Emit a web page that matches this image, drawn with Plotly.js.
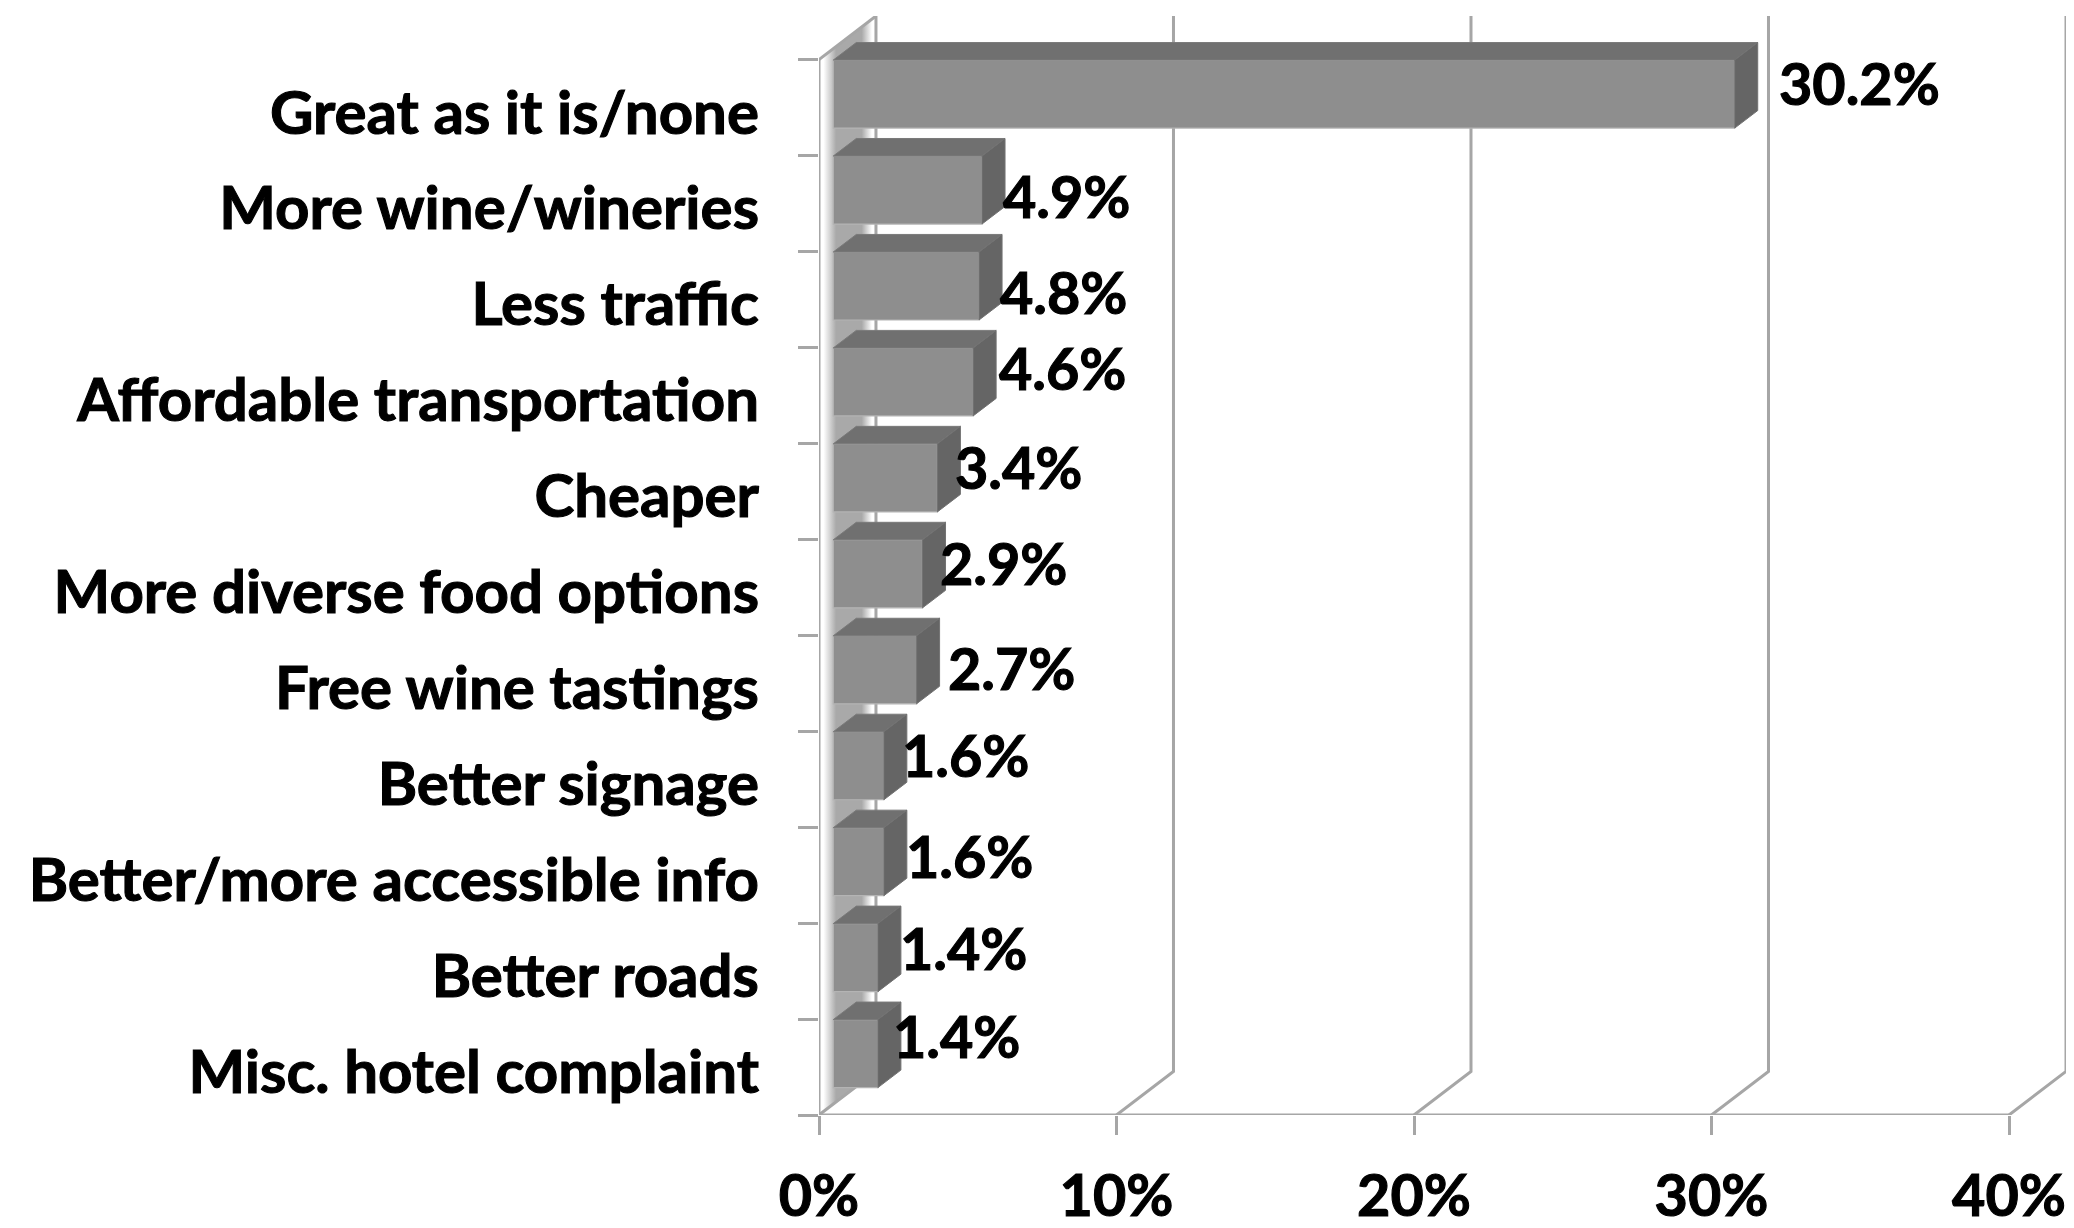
<!DOCTYPE html>
<html><head><meta charset="utf-8">
<script src="https://cdn.plot.ly/plotly-3.0.1.min.js"></script>
<style>html,body{margin:0;padding:0;background:#fff} svg text{stroke:#000;stroke-width:1.1px}</style></head>
<body><div id="chart" style="width:2074px;height:1228px"></div>
<script>
const categories = ["Great as it is/none","More wine/wineries","Less traffic","Affordable transportation","Cheaper","More diverse food options","Free wine tastings","Better signage","Better/more accessible info","Better roads","Misc. hotel complaint"];
const values = [30.2,4.9,4.8,4.6,3.4,2.9,2.7,1.6,1.6,1.4,1.4];
const axisTicks = [0,10,20,30,40];

// 3-D look, expressed in axis units
const wallDX = 1.915, wallDY = 0.4536;
const barDX = 0.773, barDY = 0.1825;
const barBase = 0.48, barEndShift = 0.58, barShiftY = -0.14, barThick = 0.709;
// hand placement of the data labels (px from the bar end)
const nudgeX = [42,19,19,24,16,15,29,16,20,20,13];
const nudgeY = [-25,-8,-8,-28,-25,-25,-16,-25,-20,-24,-32];

const FONT = 'Lato, "Open Sans", sans-serif', GRID = '#a6a6a6', IDX = categories.map((_, i) => i);
const yBottom = categories.length - 0.5, yTop = -0.5;

const wall = {x:[0,wallDX,wallDX,0,0], y:[yTop,yTop-wallDY,yBottom-wallDY,yBottom,yTop], mode:'none', fill:'toself', hoverinfo:'skip',
  fillgradient:{type:'horizontal', colorscale:[[0,'#ffffff'],[0.08,'#ffffff'],[0.3,'#a9a9a9'],[0.75,'#a9a9a9'],[0.93,'#ffffff'],[1,'#ffffff']]}};
const gx = [], gy = [];
axisTicks.forEach(t => { gx.push(t,t+wallDX,t+wallDX,null); gy.push(yBottom,yBottom-wallDY,yTop-wallDY,null); });
const grid = {x:gx, y:gy, mode:'lines', line:{color:GRID,width:3}, hoverinfo:'skip', cliponaxis:false};
const frame = {x:[0,0,axisTicks[axisTicks.length-1],null,0,wallDX], y:[yTop,yBottom,yBottom,null,yTop,yTop-wallDY], mode:'lines', line:{color:GRID,width:3}, hoverinfo:'skip', cliponaxis:false};

const bars = {type:'bar', orientation:'h', xaxis:'x2', yaxis:'y2', y:IDX.map(i=>i+barShiftY), x:values.map(v=>v+barEndShift-barBase), base:barBase, width:barThick,
  marker:{color:'#8e8e8e', line:{color:'#b4b4b4', width:1.2}}, hovertemplate:'%{x}<extra></extra>'};
const tx = [], ty = [], sx = [], sy = [];
values.forEach((v,i) => {
  const r = v+barEndShift, top = i+barShiftY-barThick/2, bot = i+barShiftY+barThick/2;
  tx.push(barBase,barBase+barDX,r+barDX,r,barBase,null); ty.push(top,top-barDY,top-barDY,top,top,null);
  sx.push(r,r+barDX,r+barDX,r,r,null); sy.push(top,top-barDY,bot-barDY,bot,top,null);
});
const topFaces = {x:tx, y:ty, xaxis:'x2', yaxis:'y2', mode:'lines', fill:'toself', fillcolor:'#707070', line:{color:'#7a7a7a',width:1}, hoverinfo:'skip'};
const sideFaces = {x:sx, y:sy, xaxis:'x2', yaxis:'y2', mode:'lines', fill:'toself', fillcolor:'#656565', line:{color:'#727272',width:1}, hoverinfo:'skip'};

const annotations = values.map((v,i) => ({x:v+barEndShift, y:i, xref:'x', yref:'y', text:v.toFixed(1)+'%', showarrow:false, xanchor:'left', yanchor:'middle',
  xshift:nudgeX[i], yshift:-nudgeY[i], font:{family:FONT,size:57.5,color:'#000',weight:700}}));

const xr = [0, axisTicks[axisTicks.length-1]+wallDX], yr = [yBottom, yTop-wallDY];
const layout = {width:2074, height:1228, autosize:false, showlegend:false, paper_bgcolor:'#fff', plot_bgcolor:'#fff',
  margin:{l:818.5, r:8, t:16, b:113, pad:0}, barmode:'overlay', annotations,
  xaxis:{range:xr, tickmode:'array', tickvals:axisTicks, ticktext:axisTicks.map(t=>t+'%'), ticks:'outside', ticklen:19, tickwidth:3, tickcolor:GRID, showgrid:false, zeroline:false, showline:false, ticklabelstandoff:12,
    tickfont:{family:FONT,size:57.5,color:'#000',weight:700}},
  yaxis:{range:yr, tickmode:'array', tickvals:IDX, ticktext:categories, ticks:'', showgrid:false, zeroline:false, showline:false, ticklabelstandoff:59, ticklabelshift:-5,
    tickfont:{family:FONT,size:60,color:'#000',weight:700}},
  xaxis2:{range:xr, overlaying:'x', visible:false},
  yaxis2:{range:yr, overlaying:'y', showticklabels:false, tickmode:'array', tickvals:[...IDX.map(i=>i-0.5), yBottom], ticks:'outside', ticklen:20, tickwidth:3, tickcolor:GRID, showgrid:false, zeroline:false, showline:false}
};
Plotly.newPlot('chart',[wall,grid,frame,bars,topFaces,sideFaces],layout,{staticPlot:true,displayModeBar:false});
</script></body></html>
